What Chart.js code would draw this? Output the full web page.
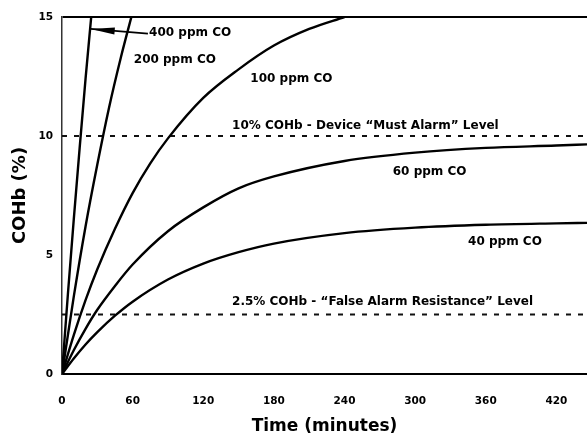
<!DOCTYPE html>
<html>
<head>
<meta charset="utf-8">
<script src="https://cdn.jsdelivr.net/npm/chart.js@4.4.1/dist/chart.umd.min.js"></script>
<style>
  html, body { margin: 0; padding: 0; background: #fff; }
  #wrap { width: 587px; height: 441px; position: relative; }
</style>
</head>
<body>
<div id="wrap"><canvas id="cohbChart"></canvas></div>
<script>
// readings taken off the curves (time in minutes, COHb in %)
const time400 = [0, 5, 10, 15, 20, 25];
const co400 = [0, 3.35, 6.5, 9.5, 12.4, 15.1];

const time200 = [0, 10, 20, 30, 40, 50, 60];
const co200 = [0, 3.25, 6.2, 8.8, 11.2, 13.3, 15.2];

const time100 = [0, 10, 20, 30, 45, 60, 75, 90, 120, 150, 180, 210, 240];
const co100 = [0, 1.63, 3.1, 4.4, 6.1, 7.6, 8.85, 9.9, 11.6, 12.8, 13.8, 14.5, 15.0];

const timeLow = [0, 10, 20, 30, 45, 60, 90, 120, 150, 180, 240, 300, 360, 420, 446];
const co60 = [0, 1.0, 1.9, 2.7, 3.7, 4.6, 6.0, 7.0, 7.8, 8.3, 8.95, 9.3, 9.5, 9.6, 9.65];
const co40 = [0, 0.65, 1.24, 1.76, 2.45, 3.04, 3.97, 4.64, 5.12, 5.48, 5.92, 6.15, 6.27, 6.33, 6.35];

const levelTimes = [0, 446];
const mustAlarm = [10, 10];
const falseAlarm = [2.5, 2.5];

const xTicks = [0, 60, 120, 180, 240, 300, 360, 420];
const yTicks = [0, 5, 10, 15];

// text annotations, placed in data units
const notes = [
    { text: '400 ppm CO', t: 74, v: 14.33 },
    { text: '200 ppm CO', t: 61, v: 13.2 },
    { text: '100 ppm CO', t: 160, v: 12.4 },
    { text: '10% COHb - Device \u201cMust Alarm\u201d Level', t: 144.5, v: 10.42 },
    { text: '60 ppm CO', t: 281, v: 8.5 },
    { text: '40 ppm CO', t: 345, v: 5.55 },
    { text: '2.5% COHb - \u201cFalse Alarm Resistance\u201d Level', t: 144.5, v: 3.03 }
];
const arrow400 = { fromT: 73, fromV: 14.3, toT: 24.4, toV: 14.5 };

function pairs(xs, ys) {
    return xs.map((x, i) => ({ x: x, y: ys[i] }));
}

function curve(label, xs, ys) {
    return {
        label: label,
        data: pairs(xs, ys),
        borderColor: '#000',
        borderWidth: 2.4,
        pointRadius: 0,
        cubicInterpolationMode: 'monotone',
        fill: false
    };
}

function level(label, ys) {
    return {
        label: label,
        data: pairs(levelTimes, ys),
        borderColor: '#111',
        borderWidth: 2,
        borderDash: [5, 7],
        pointRadius: 0,
        fill: false
    };
}

const notesPlugin = {
    id: 'notes',
    afterDatasetsDraw(chart) {
        const ctx = chart.ctx;
        const xs = chart.scales.x;
        const ys = chart.scales.y;
        ctx.save();
        ctx.fillStyle = '#000';
        ctx.font = 'bold 12px "DejaVu Sans"';
        ctx.textAlign = 'left';
        ctx.textBaseline = 'middle';
        notes.forEach(n => {
            ctx.fillText(n.text, xs.getPixelForValue(n.t), ys.getPixelForValue(n.v));
        });

        // arrow pointing at the 400 ppm line
        const x1 = xs.getPixelForValue(arrow400.fromT);
        const y1 = ys.getPixelForValue(arrow400.fromV);
        const x2 = xs.getPixelForValue(arrow400.toT);
        const y2 = ys.getPixelForValue(arrow400.toV);
        const ang = Math.atan2(y2 - y1, x2 - x1);
        ctx.strokeStyle = '#000';
        ctx.lineWidth = 1.8;
        ctx.beginPath();
        ctx.moveTo(x1, y1);
        ctx.lineTo(x2, y2);
        ctx.stroke();
        ctx.translate(x2, y2);
        ctx.rotate(ang);
        ctx.beginPath();
        ctx.moveTo(0, 0);
        ctx.lineTo(-24, -3.5);
        ctx.lineTo(-24, 3.5);
        ctx.closePath();
        ctx.fill();
        ctx.restore();
    }
};

const ctx = document.getElementById('cohbChart').getContext('2d');
const cohbChart = new Chart(ctx, {
    type: 'line',
    data: {
        datasets: [
            curve('400 ppm CO', time400, co400),
            curve('200 ppm CO', time200, co200),
            curve('100 ppm CO', time100, co100),
            curve('60 ppm CO', timeLow, co60),
            curve('40 ppm CO', timeLow, co40),
            level('10% COHb', mustAlarm),
            level('2.5% COHb', falseAlarm)
        ]
    },
    options: {
        responsive: true,
        maintainAspectRatio: false,
        animation: false,
        layout: {
            padding: { top: 17, left: 0, right: 0, bottom: 0 }
        },
        font: { family: '"DejaVu Sans"' },
        scales: {
            x: {
                type: 'linear',
                min: 0,
                max: 446,
                afterBuildTicks: function (scale) {
                    scale.ticks = xTicks.map(v => ({ value: v }));
                },
                afterFit: function (scale) {
                    scale.height = 67;
                },
                ticks: {
                    color: '#000',
                    padding: 13,
                    maxRotation: 0,
                    autoSkip: false,
                    font: { family: '"DejaVu Sans"', size: 10.5, weight: 'bold' }
                },
                grid: { display: false },
                border: { display: true, color: '#000', width: 2 },
                title: {
                    display: true,
                    text: 'Time (minutes)',
                    color: '#000',
                    padding: { top: 0, bottom: 4 },
                    font: { family: '"DejaVu Sans"', size: 17, weight: 'bold' }
                }
            },
            y: {
                min: 0,
                max: 15,
                afterBuildTicks: function (scale) {
                    scale.ticks = yTicks.map(v => ({ value: v }));
                },
                afterFit: function (scale) {
                    scale.width = 62;
                },
                ticks: {
                    color: '#000',
                    padding: 9,
                    font: { family: '"DejaVu Sans"', size: 10.5, weight: 'bold' }
                },
                grid: {
                    drawTicks: false,
                    color: c => (c.tick && c.tick.value === 15 ? '#000' : 'rgba(0,0,0,0)'),
                    lineWidth: 2
                },
                border: { display: true, color: '#333', width: 1.5 },
                title: {
                    display: true,
                    text: 'COHb (%)',
                    color: '#000',
                    padding: { top: 10, bottom: 0 },
                    font: { family: '"DejaVu Sans"', size: 18, weight: 'bold' }
                }
            }
        },
        plugins: {
            legend: { display: false },
            tooltip: { enabled: false }
        }
    },
    plugins: [notesPlugin]
});
</script>
</body>
</html>
